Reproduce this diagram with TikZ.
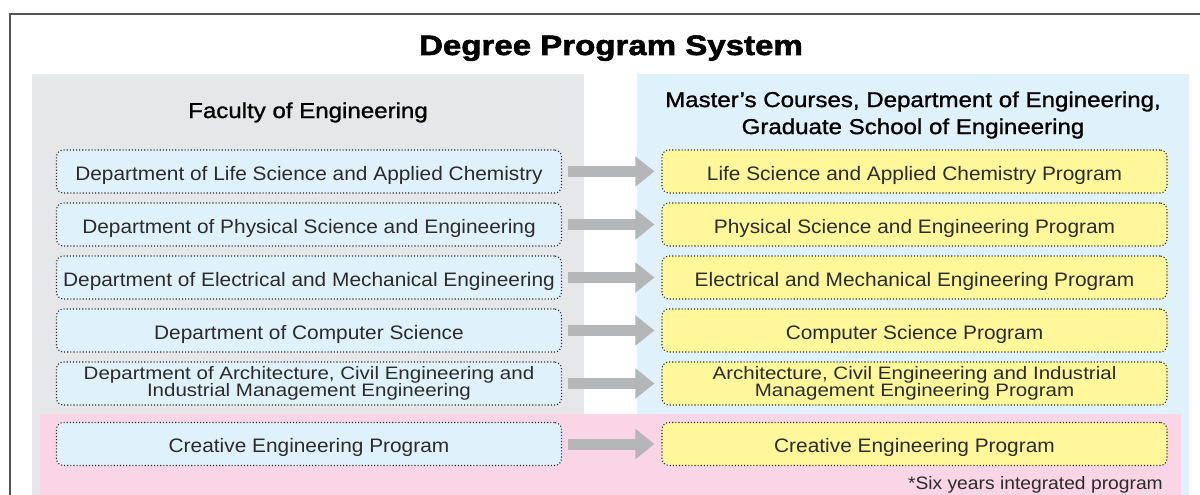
\documentclass[tikz,border=0pt]{standalone}
\usepackage{fontspec}
\setmainfont{Liberation Sans}
\newfontfamily\boxfont[FakeStretch=1.07]{Liberation Sans}
\newfontfamily\twofont[FakeStretch=1.14]{Liberation Sans}
\newfontfamily\medfont[FakeStretch=1.12,FakeBold=1.2]{Liberation Sans}
\newfontfamily\titlefont[FakeStretch=1.18,FakeBold=2.0]{Liberation Sans}
\usetikzlibrary{arrows.meta}
\definecolor{framec}{HTML}{555555}
\definecolor{grayp}{HTML}{E6E7E8}
\definecolor{bluep}{HTML}{DFF2FB}
\definecolor{pinkp}{HTML}{F9D5E6}
\definecolor{yellowb}{HTML}{FFF799}
\definecolor{arrowc}{HTML}{B5B6B7}
\definecolor{txtc}{HTML}{2B2B2B}
\tikzset{
  x=1pt, y=-1pt,
  box/.style={draw=txtc, dotted, line width=1.1pt, rounded corners=7pt,
    minimum width=505pt, minimum height=43pt, inner sep=0pt, align=center,
    text=txtc, font=\boxfont\fontsize{19.5}{17}\selectfont},
  one/.style={text height=17pt, text depth=0pt},
  two/.style={font=\twofont\fontsize{18}{17}\selectfont},
  lbox/.style={box, fill=bluep},
  rbox/.style={box, fill=yellowb},
  flow/.style={draw=arrowc, line width=11pt, -{Triangle[length=19pt,width=29pt]}},
  head/.style={text=black, font=\medfont\fontsize{21.5}{27}\selectfont, align=center}
}
\begin{document}
\begin{tikzpicture}
\useasboundingbox (0,0) rectangle (1200,495);
\fill[white] (0,0) rectangle (1200,495);
% frame
\draw[framec, line width=1.4pt] (10,495) -- (10,14) -- (1200,14);
% panels
\fill[grayp] (32,74) rectangle (584,495);
\fill[bluep] (637,74) rectangle (1189,495);
\fill[pinkp] (40,414) rectangle (1181,495);
% title
\node[font=\titlefont\bfseries\fontsize{28}{30}\selectfont, text=black, anchor=base] (title) at (611,55) {Degree Program System};
\node[head, anchor=base] (fac) at (308,118) {Faculty of Engineering};
\node[head] (mas) at (913,115) {Master’s Courses, Department of Engineering,\\Graduate School of Engineering};
% left boxes
\node[lbox, one] (l1) at (309,171.5) {Department of Life Science and Applied Chemistry};
\node[lbox, one] (l2) at (309,224.5) {Department of Physical Science and Engineering};
\node[lbox, one] (l3) at (309,277.5) {Department of Electrical and Mechanical Engineering};
\node[lbox, one] (l4) at (309,330.5) {Department of Computer Science};
\node[lbox, two] (l5) at (309,383.5) {Department of Architecture, Civil Engineering and\\Industrial Management Engineering};
\node[lbox, one] (l6) at (309,444) {Creative Engineering Program};
% right boxes
\node[rbox, one] (r1) at (914.5,171.5) {Life Science and Applied Chemistry Program};
\node[rbox, one] (r2) at (914.5,224.5) {Physical Science and Engineering Program};
\node[rbox, one] (r3) at (914.5,277.5) {Electrical and Mechanical Engineering Program};
\node[rbox, one] (r4) at (914.5,330.5) {Computer Science Program};
\node[rbox, two] (r5) at (914.5,383.5) {Architecture, Civil Engineering and Industrial\\Management Engineering Program};
\node[rbox, one] (r6) at (914.5,444) {Creative Engineering Program};
% arrows
\foreach \i in {1,...,6}{
  \draw[flow] ([xshift=6pt]l\i.east) -- ([xshift=-7pt]r\i.west);
}
% note
\node[anchor=base east, text=txtc, font=\boxfont\fontsize{18}{19}\selectfont, inner sep=0pt] (note) at (1163,489) {*Six years integrated program};
\end{tikzpicture}
\end{document}
